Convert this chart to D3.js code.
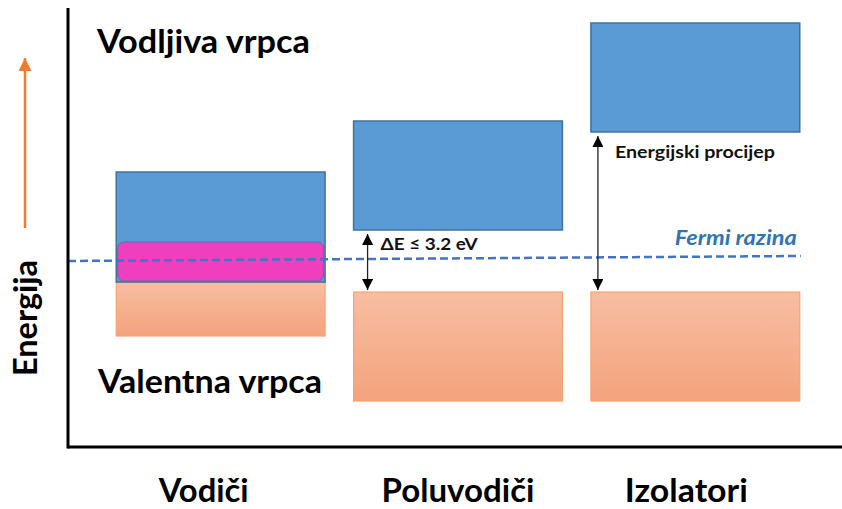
<!DOCTYPE html>
<html lang="hr">
<head>
<meta charset="UTF-8"/>
<title>Energijske vrpce</title>
<script src="https://d3js.org/d3.v7.min.js"></script>
<style>
  body { margin: 0; background: #fff; }
  text { font-family: Lato, "Open Sans", sans-serif; font-weight: bold; }
</style>
</head>
<body>
<script>
  var w = 842;
  var h = 509;

  // data (energy in arbitrary units, 0 = x axis)
  var categories = ["Vodiči", "Poluvodiči", "Izolatori"];
  var conductionBand = [[165, 275], [217, 326], [315, 424]];
  var valenceBand = [[111, 165], [46, 155], [46, 155]];
  var overlap = [[166, 205], null, null];
  var fermiLevel = [186, 191];   // left end, right end
  var gapLabels = [null, "ΔE ≤ 3.2 eV", "Energijski procijep"];
  var bandLabels = ["Vodljiva vrpca", "Valentna vrpca"];
  var axisLabel = "Energija";
  var fermiLabel = "Fermi razina";

  var xScale = d3.scaleBand()
                 .domain(categories)
                 .range([102, 814])
                 .paddingInner(0.12)
                 .paddingOuter(0.06);

  var yScale = d3.scaleLinear()
                 .domain([0, 440])
                 .range([447, 7]);

  var svg = d3.select("body")
              .append("svg")
              .attr("width", w)
              .attr("height", h);

  var defs = svg.append("defs");
  var grad = defs.append("linearGradient")
                 .attr("id", "valGrad")
                 .attr("x1", 0).attr("y1", 0).attr("x2", 0).attr("y2", 1);
  grad.append("stop").attr("offset", "0%").attr("stop-color", "#f7bea2");
  grad.append("stop").attr("offset", "100%").attr("stop-color", "#f4a37d");

  function arrowHead(id, color, size) {
    defs.append("marker")
        .attr("id", id)
        .attr("viewBox", "0 0 10 10")
        .attr("refX", 10).attr("refY", 5)
        .attr("markerWidth", size).attr("markerHeight", size)
        .attr("markerUnits", "userSpaceOnUse")
        .attr("orient", "auto-start-reverse")
        .append("path")
        .attr("d", "M0,0 L10,5 L0,10 Z")
        .attr("fill", color);
  }
  arrowHead("blackHead", "#000", 11);
  arrowHead("orangeHead", "#ed7d31", 13);

  // valence bands
  svg.selectAll("rect.val")
     .data(valenceBand)
     .enter()
     .append("rect")
     .attr("class", "val")
     .attr("x", function(d, i) { return xScale(categories[i]); })
     .attr("y", function(d) { return yScale(d[1]); })
     .attr("width", xScale.bandwidth())
     .attr("height", function(d) { return yScale(d[0]) - yScale(d[1]); })
     .attr("fill", "url(#valGrad)")
     .attr("stroke", "#f5a46f")
     .attr("stroke-width", 1.2);

  // conduction bands
  svg.selectAll("rect.cond")
     .data(conductionBand)
     .enter()
     .append("rect")
     .attr("class", "cond")
     .attr("x", function(d, i) { return xScale(categories[i]); })
     .attr("y", function(d) { return yScale(d[1]); })
     .attr("width", xScale.bandwidth())
     .attr("height", function(d) { return yScale(d[0]) - yScale(d[1]); })
     .attr("fill", "#5b9bd5")
     .attr("stroke", "#41719c")
     .attr("stroke-width", 1.5);

  // overlap region (conductors)
  svg.selectAll("rect.ovl")
     .data(overlap.map(function(d, i) { return {r: d, c: categories[i]}; })
                  .filter(function(d) { return d.r; }))
     .enter()
     .append("rect")
     .attr("class", "ovl")
     .attr("x", function(d) { return xScale(d.c) + 1.5; })
     .attr("y", function(d) { return yScale(d.r[1]); })
     .attr("width", xScale.bandwidth() - 3)
     .attr("height", function(d) { return yScale(d.r[0]) - yScale(d.r[1]); })
     .attr("rx", 6)
     .attr("fill", "#ef3fbf")
     .attr("stroke", "#5a6fa6")
     .attr("stroke-width", 1);

  // Fermi level
  var xLeft = 68, xRight = xScale(categories[2]) + xScale.bandwidth() + 1;
  svg.append("line")
     .attr("x1", xLeft).attr("y1", yScale(fermiLevel[0]))
     .attr("x2", xRight).attr("y2", yScale(fermiLevel[1]))
     .attr("stroke", "#4472c4")
     .attr("stroke-width", 2.5)
     .attr("stroke-dasharray", "8,4");

  svg.append("text")
     .attr("x", xRight - 4)
     .attr("y", yScale(fermiLevel[1]) - 11)
     .attr("text-anchor", "end")
     .attr("font-size", 20)
     .attr("font-style", "italic")
     .attr("fill", "#2e75b6")
     .attr("textLength", 122)
     .attr("lengthAdjust", "spacingAndGlyphs")
     .text(fermiLabel);

  // gap arrows
  gapLabels.forEach(function(label, i) {
    if (!label) return;
    var x = xScale(categories[i]) + (i == 1 ? 14 : 7);
    svg.append("line")
       .attr("x1", x).attr("y1", yScale(valenceBand[i][1]) - 2)
       .attr("x2", x).attr("y2", yScale(conductionBand[i][0]) + 4)
       .attr("stroke", "#222")
       .attr("stroke-width", 1.3)
       .attr("marker-start", "url(#blackHead)")
       .attr("marker-end", "url(#blackHead)");
    svg.append("text")
       .attr("x", x + (i == 1 ? 13 : 17))
       .attr("y", yScale(conductionBand[i][0]) + (i == 1 ? 20 : 26))
       .attr("font-size", i == 1 ? 17 : 17)
       .attr("fill", "#111")
       .attr("textLength", i == 1 ? 97 : 160)
       .attr("lengthAdjust", "spacingAndGlyphs")
       .text(label);
  });

  // axes
  svg.append("line")
     .attr("x1", 68).attr("y1", yScale(439))
     .attr("x2", 68).attr("y2", yScale(0) + 1.5)
     .attr("stroke", "#000").attr("stroke-width", 3);
  svg.append("line")
     .attr("x1", 68).attr("y1", yScale(0))
     .attr("x2", w).attr("y2", yScale(0))
     .attr("stroke", "#000").attr("stroke-width", 3);

  // category labels
  var labelShift = [-17, 0, -9];
  var labelWidth = [90, 153, 123];
  svg.selectAll("text.cat")
     .data(categories)
     .enter()
     .append("text")
     .attr("class", "cat")
     .attr("x", function(d, i) { return xScale(d) + xScale.bandwidth() / 2 + labelShift[i]; })
     .attr("y", 502)
     .attr("text-anchor", "middle")
     .attr("font-size", 32)
     .attr("fill", "#000")
     .attr("textLength", function(d, i) { return labelWidth[i]; })
     .attr("lengthAdjust", "spacingAndGlyphs")
     .text(function(d) { return d; });

  // band names
  svg.append("text")
     .attr("x", 97).attr("y", 53)
     .attr("font-size", 32)
     .attr("textLength", 213)
     .attr("lengthAdjust", "spacingAndGlyphs")
     .text(bandLabels[0]);
  svg.append("text")
     .attr("x", 98).attr("y", 393)
     .attr("font-size", 32)
     .attr("textLength", 224)
     .attr("lengthAdjust", "spacingAndGlyphs")
     .text(bandLabels[1]);

  // energy axis label + orange arrow
  svg.append("text")
     .attr("transform", "translate(37,376) rotate(-90)")
     .attr("font-size", 33)
     .attr("textLength", 116)
     .attr("lengthAdjust", "spacingAndGlyphs")
     .text(axisLabel);

  svg.append("line")
     .attr("x1", 25).attr("y1", 228)
     .attr("x2", 25).attr("y2", 58)
     .attr("stroke", "#ed7d31")
     .attr("stroke-width", 2.5)
     .attr("marker-end", "url(#orangeHead)");
</script>
</body>
</html>
